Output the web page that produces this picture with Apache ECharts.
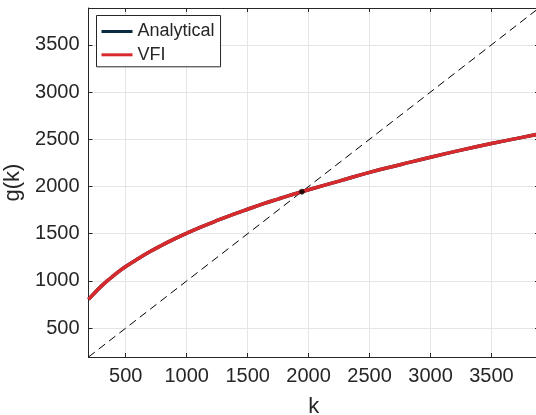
<!DOCTYPE html>
<html>
<head>
<meta charset="utf-8">
<script src="https://cdn.jsdelivr.net/npm/echarts@6/dist/echarts.min.js"></script>
<style>html,body{margin:0;padding:0;background:#fff;}#c{width:536px;height:415px;}</style>
</head>
<body>
<div id="c"></div>
<script>
// ---- data ----
const kGrid = [194.5, 250, 300, 350, 400, 450, 500, 600, 700, 800, 900, 1000, 1125, 1250, 1375, 1500, 1625, 1750, 1875, 2000, 2250, 2500, 2750, 3000, 3250, 3500, 3750, 3890];
const gAnalytical = [805, 881, 945, 1003, 1056, 1106, 1153, 1235, 1311, 1380, 1445, 1505, 1575, 1640, 1701, 1759, 1815, 1867, 1918, 1966, 2057, 2150, 2230, 2310, 2385, 2455, 2520, 2555];
const gVFI = [805, 881, 945, 1003, 1056, 1106, 1153, 1235, 1311, 1380, 1445, 1505, 1575, 1640, 1701, 1759, 1815, 1867, 1918, 1966, 2057, 2150, 2230, 2310, 2385, 2455, 2520, 2555];
const diagK = [194.5, 3890];
const steadyK = [1945];
const steadyG = [1945];
const xTicks = [500, 1000, 1500, 2000, 2500, 3000, 3500];
const yTicks = [500, 1000, 1500, 2000, 2500, 3000, 3500];
const xRange = [194.5, 3890];
const yRange = [194.5, 3890];

const FONT = "'Liberation Sans', Arial, Helvetica, sans-serif";
const AX = '#262626';
const GRIDC = '#e5e5e5';

function pairs(xs, ys) { return xs.map((x, i) => [x, ys[i]]); }

function mkAxis(pos, ticks, range, show, name, nameGap) {
  return {
    type: 'value', position: pos, min: range[0], max: range[1],
    name: name || '', nameLocation: 'middle', nameGap: nameGap || 0,
    nameTextStyle: { fontFamily: FONT, fontSize: 22, color: AX },
    axisLine: { show: true, onZero: false, lineStyle: { color: AX, width: 1 } },
    axisTick: { show: true, inside: true, length: 4, customValues: ticks, lineStyle: { color: AX } },
    axisLabel: { show: show, customValues: ticks, fontFamily: FONT, fontSize: 20, color: AX, margin: 9,
      formatter: function (v) { return String(v); } },
    splitLine: { show: show, customValues: ticks, lineStyle: { color: GRIDC, width: 1 } }
  };
}

const chart = echarts.init(document.getElementById('c'), null, { renderer: 'canvas' });
chart.setOption({
  animation: false,
  backgroundColor: '#fff',
  grid: { left: 88.5, top: 8, right: -3, bottom: 58, containLabel: false, outerBoundsMode: 'none' },
  xAxis: [mkAxis('bottom', xTicks, xRange, true, 'k', 39), mkAxis('top', xTicks, xRange, false)],
  yAxis: [mkAxis('left', yTicks, yRange, true, 'g(k)', 47), mkAxis('right', yTicks, yRange, false)],
  legend: {
    left: 96.5, top: 15.5, orient: 'vertical',
    backgroundColor: '#fff', borderColor: AX, borderWidth: 1,
    padding: [6, 6, 2, 5], itemGap: 3.3, itemWidth: 31, itemHeight: 3,
    textStyle: { fontFamily: FONT, fontSize: 18, color: AX, lineHeight: 20 },
    data: [{ name: 'Analytical', icon: 'rect' }, { name: 'VFI', icon: 'rect' }]
  },
  series: [
    {
      name: '45deg', type: 'line', data: pairs(diagK, diagK), symbol: 'none', silent: true,
      lineStyle: { color: '#000', width: 1, type: [8, 5] }, z: 2
    },
    {
      name: 'Analytical', type: 'line', data: pairs(kGrid, gAnalytical), smooth: 0.5, symbol: 'none',
      color: '#0b2b40', lineStyle: { color: '#0b2b40', width: 3.5 }, z: 3
    },
    {
      name: 'VFI', type: 'line', data: pairs(kGrid, gVFI), smooth: 0.5, symbol: 'none',
      color: '#d82a2c', lineStyle: { color: '#d82a2c', width: 3.5 }, z: 4
    },
    {
      name: 'ss', type: 'scatter', data: pairs(steadyK, steadyG), z: 5,
      symbol: 'path://M0,-5L0,5M-5,0L5,0M-3.5,-3.5L3.5,3.5M-3.5,3.5L3.5,-3.5',
      symbolSize: 6,
      itemStyle: { color: 'none', borderColor: '#000', borderWidth: 1.5 }
    }
  ]
});
</script>
</body>
</html>
